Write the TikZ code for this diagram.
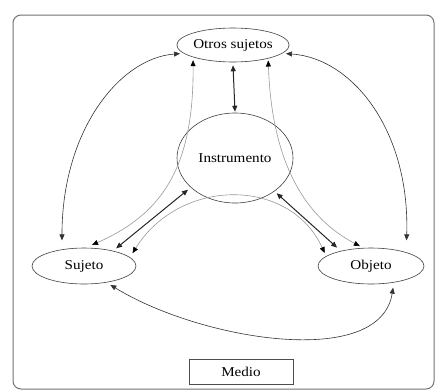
\documentclass[tikz,border=0pt]{standalone}
\usepackage{fontspec}
\setmainfont{Liberation Serif}[FakeStretch=1.12]
\usetikzlibrary{shapes.geometric,arrows.meta}
\begin{document}
\begin{tikzpicture}[x=1pt,y=-1pt,
  every node/.style={font=\fontsize{13.5}{15}\selectfont, text=black},
  ell/.style={ellipse, draw=black!75, line width=0.6pt, inner sep=0pt},
  box/.style={rectangle, draw=black!70, line width=0.6pt, inner sep=0pt},
  blk/.style={draw=black!80, line width=0.6pt, {Triangle[length=6pt,width=5pt]}-{Triangle[length=6pt,width=5pt]}},
  thick2/.style={draw=black!85, line width=1pt, {Triangle[length=6pt,width=5pt]}-{Triangle[length=6pt,width=5pt]}},
  gry/.style={draw=black!40, line width=0.6pt, {Triangle[length=6pt,width=5pt,color=black]}-{Triangle[length=6pt,width=5pt,color=black]}}
]
\useasboundingbox (0,0) rectangle (435,391);
\fill[white] (0,0) rectangle (435,391);
\draw[black!55, line width=1pt, rounded corners=8pt] (13,15) rectangle (434,389);

\node[ell, minimum width=107pt, minimum height=34pt] (os) at (233,45) {Otros sujetos};
\node[ell, minimum width=116pt, minimum height=90pt] (ins) at (235,158) {Instrumento};
\node[ell, minimum width=104pt, minimum height=36pt] (suj) at (84,266) {Sujeto};
\node[ell, minimum width=106pt, minimum height=36pt] (obj) at (371,266) {Objeto};
\node[box, minimum width=104pt, minimum height=25pt] (med) at (241,372) {Medio};

% straight double arrows
\draw[thick2] ([yshift=-3pt]os.south) -- ([yshift=1pt]ins.north);
\draw[thick2] ([xshift=5pt,yshift=2pt]suj.30) -- ([xshift=-3pt,yshift=-2pt]ins.214);
\draw[thick2] ([xshift=2pt,yshift=-2pt]ins.320) -- ([xshift=-5pt,yshift=3pt]obj.152);

% big outer curves
\draw[blk] ([xshift=-4pt]os.190) .. controls (120,58) and (62,130) .. ([yshift=9pt]suj.143);
\draw[blk] ([xshift=4pt]os.-10) .. controls (352,58) and (410,130) .. ([yshift=12pt]obj.21);
\draw[blk] ([yshift=-3pt]suj.-31) .. controls (200,340) and (380,370) .. ([yshift=-5pt]obj.-37);

% gray curves
\draw[gry] ([yshift=-3pt]os.197) .. controls (194,170) and (160,215) .. ([yshift=3pt]suj.66);
\draw[gry] ([yshift=-2pt]os.339) .. controls (272,170) and (310,220) .. ([yshift=2pt]obj.122);
\draw[gry] ([yshift=6pt]suj.8) .. controls (180,177) and (290,177) .. ([yshift=4pt]obj.169);
\end{tikzpicture}
\end{document}
